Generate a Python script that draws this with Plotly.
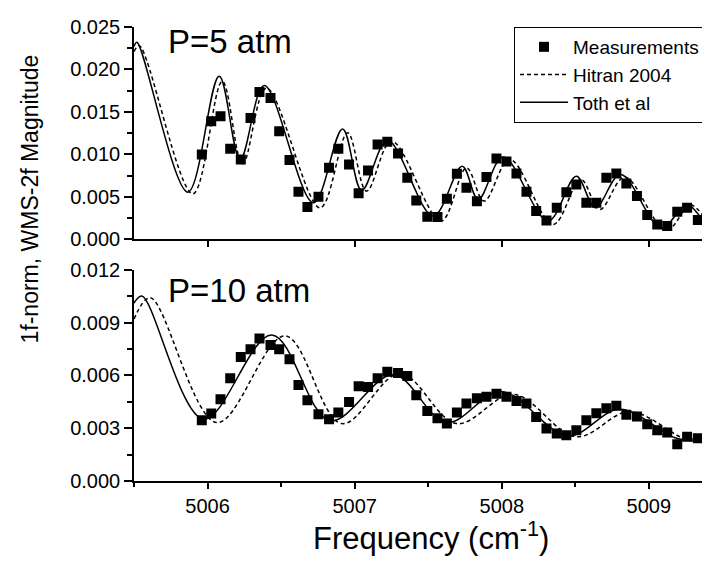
import plotly.graph_objects as go

# ---------------- data: P = 5 atm ----------------
meas5_x = [5005.961, 5006.025, 5006.088, 5006.154, 5006.226, 5006.292, 5006.353, 5006.428,
           5006.487, 5006.557, 5006.618, 5006.679, 5006.754, 5006.826, 5006.889, 5006.962,
           5007.027, 5007.091, 5007.156, 5007.222, 5007.295, 5007.358, 5007.419, 5007.494,
           5007.563, 5007.627, 5007.695, 5007.760, 5007.831, 5007.896, 5007.964, 5008.032,
           5008.100, 5008.168, 5008.234, 5008.304, 5008.374, 5008.439, 5008.507, 5008.575,
           5008.643, 5008.711, 5008.779, 5008.847, 5008.919, 5008.989, 5009.057, 5009.125,
           5009.193, 5009.260, 5009.333]
meas5_y = [0.00998, 0.01391, 0.01449, 0.01065, 0.00939, 0.01429, 0.01735, 0.01665,
           0.01273, 0.00932, 0.00559, 0.00379, 0.00500, 0.00841, 0.01065, 0.00880,
           0.00543, 0.00810, 0.01115, 0.01147, 0.01010, 0.00724, 0.00457, 0.00265,
           0.00261, 0.00476, 0.00771, 0.00606, 0.00449, 0.00732, 0.00950, 0.00915,
           0.00774, 0.00559, 0.00332, 0.00221, 0.00371, 0.00555, 0.00645, 0.00429,
           0.00429, 0.00724, 0.00774, 0.00656, 0.00508, 0.00285, 0.00174, 0.00155,
           0.00324, 0.00371, 0.00226]

toth5_x = [5005.500, 5005.520, 5005.866, 5006.079, 5006.222, 5006.385, 5006.720, 5006.918,
           5007.048, 5007.224, 5007.534, 5007.731, 5007.840, 5008.010, 5008.315, 5008.507,
           5008.636, 5008.808, 5009.084, 5009.260, 5009.390, 5009.470]
toth5_y = [0.02270, 0.02320, 0.00555, 0.01920, 0.00940, 0.01810, 0.00430, 0.01300,
           0.00574, 0.01163, 0.00273, 0.00861, 0.00468, 0.00970, 0.00214, 0.00743,
           0.00371, 0.00762, 0.00135, 0.00410, 0.00214, 0.00410]

hitran5_x = [5005.500, 5005.536, 5005.900, 5006.100, 5006.238, 5006.400, 5006.765, 5006.952,
             5007.081, 5007.251, 5007.587, 5007.760, 5007.880, 5008.055, 5008.349, 5008.537,
             5008.666, 5008.836, 5009.118, 5009.284, 5009.424, 5009.470]
hitran5_y = [0.02210, 0.02280, 0.00535, 0.01860, 0.00888, 0.01780, 0.00370, 0.01253,
             0.00567, 0.01155, 0.00214, 0.00840, 0.00450, 0.00940, 0.00174, 0.00704,
             0.00350, 0.00732, 0.00104, 0.00402, 0.00194, 0.00310]

# ---------------- data: P = 10 atm ----------------
meas10_x = meas5_x
meas10_y = [0.00345, 0.00383, 0.00464, 0.00583, 0.00705, 0.00748, 0.00810, 0.00773,
            0.00748, 0.00691, 0.00546, 0.00458, 0.00379, 0.00351, 0.00389, 0.00449,
            0.00538, 0.00534, 0.00583, 0.00621, 0.00614, 0.00597, 0.00487, 0.00398,
            0.00356, 0.00326, 0.00389, 0.00440, 0.00470, 0.00478, 0.00496, 0.00478,
            0.00455, 0.00440, 0.00364, 0.00298, 0.00270, 0.00260, 0.00288, 0.00345,
            0.00385, 0.00413, 0.00427, 0.00376, 0.00366, 0.00322, 0.00288, 0.00275,
            0.00209, 0.00252, 0.00243]

toth10_x = [5005.500, 5005.554, 5005.973, 5006.437, 5006.833, 5007.263, 5007.625, 5007.998,
            5008.450, 5008.802, 5009.220, 5009.470]
toth10_y = [0.01010, 0.01051, 0.00351, 0.00830, 0.00342, 0.00603, 0.00332, 0.00508,
            0.00256, 0.00407, 0.00237, 0.00285]

hitran10_x = [5005.500, 5005.610, 5006.063, 5006.527, 5006.912, 5007.308, 5007.693, 5008.080,
              5008.507, 5008.870, 5009.288, 5009.470]
hitran10_y = [0.00920, 0.01041, 0.00332, 0.00824, 0.00326, 0.00610, 0.00326, 0.00492,
              0.00251, 0.00394, 0.00228, 0.00262]

FONT = "Liberation Sans, Arial, sans-serif"

fig = go.Figure()

marker = dict(symbol="square", size=10, color="black")
dash_line = dict(color="black", width=1.5, dash="4px,3px", shape="spline", smoothing=1.0)
solid_line = dict(color="black", width=1.5, shape="spline", smoothing=1.0)

# top panel
fig.add_trace(go.Scatter(x=meas5_x, y=meas5_y, mode="markers", marker=marker,
                         name="Measurements", xaxis="x2", yaxis="y2"))
fig.add_trace(go.Scatter(x=hitran5_x, y=hitran5_y, mode="lines", line=dash_line,
                         name="Hitran 2004", xaxis="x2", yaxis="y2"))
fig.add_trace(go.Scatter(x=toth5_x, y=toth5_y, mode="lines", line=solid_line,
                         name="Toth et al", xaxis="x2", yaxis="y2"))
# bottom panel
fig.add_trace(go.Scatter(x=meas10_x, y=meas10_y, mode="markers", marker=marker,
                         showlegend=False, xaxis="x", yaxis="y"))
fig.add_trace(go.Scatter(x=hitran10_x, y=hitran10_y, mode="lines", line=dash_line,
                         showlegend=False, xaxis="x", yaxis="y"))
fig.add_trace(go.Scatter(x=toth10_x, y=toth10_y, mode="lines", line=solid_line,
                         showlegend=False, xaxis="x", yaxis="y"))

xr = [5005.5, 5009.47]
axcommon = dict(showline=True, linecolor="black", linewidth=1.5, showgrid=False,
                zeroline=False, ticks="outside", tickcolor="black", tickwidth=1.5,
                tickfont=dict(family=FONT, size=20, color="black"),
                mirror=False)

fig.update_layout(
    width=710, height=567,
    margin=dict(l=126, r=0, t=19, b=94),
    paper_bgcolor="white", plot_bgcolor="white",
    font=dict(family=FONT, color="black"),
    xaxis=dict(range=xr, domain=[0, 1], anchor="y", tickvals=[5006, 5007, 5008, 5009],
               ticklen=6,
               minor=dict(tickvals=[5005.5, 5006.5, 5007.5, 5008.5], ticklen=4,
                          tickcolor="black", tickwidth=1.5, ticks="outside"),
               **axcommon),
    yaxis=dict(range=[0, 0.012], domain=[0, 0.4653], anchor="x", ticklen=8,
               tickvals=[0, 0.003, 0.006, 0.009, 0.012], tickformat=".3f",
               minor=dict(dtick=0.0015, ticklen=5, tickcolor="black", tickwidth=1.5,
                          ticks="outside"),
               **axcommon),
    xaxis2=dict(range=xr, domain=[0, 1], anchor="y2", tickvals=[5006, 5007, 5008, 5009],
                ticklen=6, showticklabels=False, **axcommon),
    yaxis2=dict(range=[0, 0.025], domain=[0.5325, 1], anchor="x2", ticklen=8,
                tickvals=[0, 0.005, 0.010, 0.015, 0.020, 0.025], tickformat=".3f",
                minor=dict(dtick=0.0025, ticklen=5, tickcolor="black", tickwidth=1.5,
                           ticks="outside"),
                **axcommon),
    legend=dict(x=(506 - 126) / 584, y=1.0, xanchor="left", yanchor="top",
                bordercolor="black", borderwidth=1, bgcolor="white",
                font=dict(family=FONT, size=19, color="black"),
                tracegroupgap=0, itemwidth=48),
    showlegend=True,
)

fig.add_annotation(x=5005.72, y=0.0233, xref="x2", yref="y2", text="P=5 atm",
                   showarrow=False, xanchor="left", yanchor="middle",
                   font=dict(family=FONT, size=33, color="black"))
fig.add_annotation(x=5005.72, y=0.0108, xref="x", yref="y", text="P=10 atm",
                   showarrow=False, xanchor="left", yanchor="middle",
                   font=dict(family=FONT, size=33, color="black"))
fig.add_annotation(x=(21 - 126) / 584, y=(473.5 - 192) / 454, xref="paper", yref="paper",
                   text="1f-norm, WMS-2f Magnitude",
                   showarrow=False, textangle=-90, xanchor="center", yanchor="middle",
                   font=dict(family=FONT, size=23, color="black"))
fig.add_annotation(x=(423 - 126) / 584, y=-(528 - 473.5) / 454, xref="paper", yref="paper",
                   text="Frequency (cm<sup>-1</sup>)", showarrow=False,
                   xanchor="center", yanchor="middle",
                   font=dict(family=FONT, size=31, color="black"))

fig.write_html("out.html")
